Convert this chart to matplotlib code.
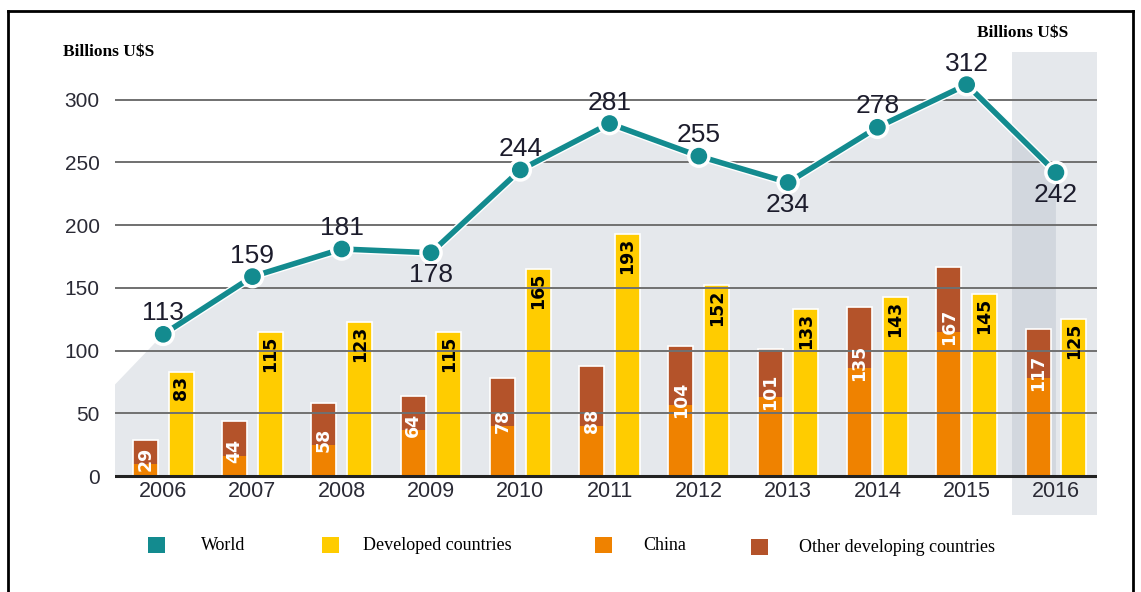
import matplotlib
matplotlib.use("Agg")
import matplotlib.pyplot as plt
import matplotlib.patheffects as pe
from matplotlib.patches import Rectangle, Polygon
from matplotlib.lines import Line2D

years = [2006, 2007, 2008, 2009, 2010, 2011, 2012, 2013, 2014, 2015, 2016]
world = [113, 159, 181, 178, 244, 281, 255, 234, 278, 312, 242]
developed = [83, 115, 123, 115, 165, 193, 152, 133, 143, 145, 125]
developing_total = [29, 44, 58, 64, 78, 88, 104, 101, 135, 167, 117]
china = [10, 16, 25, 37, 40, 40, 57, 63, 86, 115, 78]
other_dev = [t - c for t, c in zip(developing_total, china)]
world_label_side = ["up", "up", "up", "down", "up", "up", "up", "down", "up", "up", "down"]
yticks = [0, 50, 100, 150, 200, 250, 300]
legend_labels = ["World", "Developed countries", "China", "Other developing countries"]
unit_label = "Billions U$S"

C_WORLD = "#138b8f"
C_DEV = "#ffcc00"
C_CHINA = "#ef8200"
C_OTHER = "#b4532a"
C_SHADE = "#a2adbb"

W, H = 1141, 592
fig = plt.figure(figsize=(W / 100, H / 100), dpi=100)
ax = fig.add_axes([115 / W, (H - 515) / H, (1097 - 115) / W, (515 - 52) / H])
ax.set_xlim(2005.46, 2016.46)
ax.set_ylim(-31, 338)
for s in ax.spines.values():
    s.set_visible(False)
ax.set_xticks([])

# shaded area under world line
poly_x = [2005.46] + years + [years[-1], 2005.46]
poly_y = [73] + world + [0, 0]
ax.add_patch(Polygon(list(zip(poly_x, poly_y)), closed=True, facecolor=C_SHADE,
                     alpha=0.28, edgecolor="none", zorder=0))
# 2016 highlight
ax.add_patch(Rectangle((2015.51, -31), 0.95, 369, facecolor=C_SHADE, alpha=0.28,
                       edgecolor="none", zorder=0))

bw = 0.28
off = 0.2
xd = [y - off for y in years]
xv = [y + off for y in years]
ax.bar(xd, china, width=bw, color=C_CHINA, edgecolor="none", zorder=2)
ax.bar(xd, other_dev, width=bw, bottom=china, color=C_OTHER, edgecolor="none", zorder=2)
ax.bar(xd, developing_total, width=bw, facecolor="none", edgecolor="white",
       linewidth=1.2, zorder=2.1)
ax.bar(xv, developed, width=bw, color=C_DEV, edgecolor="white", linewidth=1.2, zorder=2)

# gridlines on top of bars
for t in yticks[1:]:
    ax.axhline(t, color="#707070", lw=1.4, zorder=3)
ax.axhline(0, color="#222222", lw=2.2, zorder=3)

ax.set_yticks(yticks)
ax.set_yticklabels([str(t) for t in yticks], fontsize=15, family="Liberation Sans",
                   color="#2a2a35")
ax.tick_params(axis="y", length=0, pad=11)

for y in years:
    ax.text(y, -12.5, str(y), ha="center", va="center", fontsize=15.5,
            family="Liberation Sans", color="#2a2a35", zorder=5)

# bar labels
for x, v in zip(xv, developed):
    ax.text(x, v - 3, str(v), rotation=90, ha="center", va="top", fontsize=12.5,
            fontweight="bold", color="black", zorder=4)
for x, t, c in zip(xd, developing_total, china):
    yc = max(c + 4, 14)
    ax.text(x, yc, str(t), rotation=90, ha="center", va="center", fontsize=12.5,
            fontweight="bold", color="white", zorder=4)

# world line
ax.plot(years, world, color=C_WORLD, lw=4, marker="o", markersize=11,
        markeredgecolor=C_WORLD, zorder=6,
        path_effects=[pe.Stroke(linewidth=6, foreground="white"), pe.Normal()])
for x, v, side in zip(years, world, world_label_side):
    dy = 15 if side == "up" else -16
    ax.annotate(str(v), (x, v), xytext=(0, dy), textcoords="offset points",
                ha="center", va="center", fontsize=19, family="Liberation Sans",
                color="#1c1c2c", zorder=7)

# unit labels
fig.text(63 / W, 1 - 52 / H, unit_label, fontsize=12.5, fontweight="bold",
         family="Liberation Serif", ha="left", va="center")
fig.text(1068 / W, 1 - 33 / H, unit_label, fontsize=12.5, fontweight="bold",
         family="Liberation Serif", ha="right", va="center")

# legend
leg_colors = [C_WORLD, C_DEV, C_CHINA, C_OTHER]
leg_sq_x = [148, 322, 595, 751]
leg_tx_x = [201, 363, 643, 799]
leg_y = [545, 545, 545, 547]
for col, sx, tx, ly, lab in zip(leg_colors, leg_sq_x, leg_tx_x, leg_y, legend_labels):
    fig.patches.append(Rectangle((sx / W, 1 - (ly + 8) / H), 17 / W, 16 / H,
                                 facecolor=col, edgecolor="none",
                                 transform=fig.transFigure, figure=fig))
    fig.text(tx / W, 1 - ly / H, lab, fontsize=13, family="Liberation Serif",
             ha="left", va="center")

# outer frame
for xs, ys in [([8, 8], [11, 600]), ([8, 1133], [11, 11]), ([1133, 1133], [11, 600])]:
    fig.add_artist(Line2D([x / W for x in xs], [1 - y / H for y in ys], color="black",
                          lw=2, transform=fig.transFigure))

fig.savefig("out.png", dpi=100)
